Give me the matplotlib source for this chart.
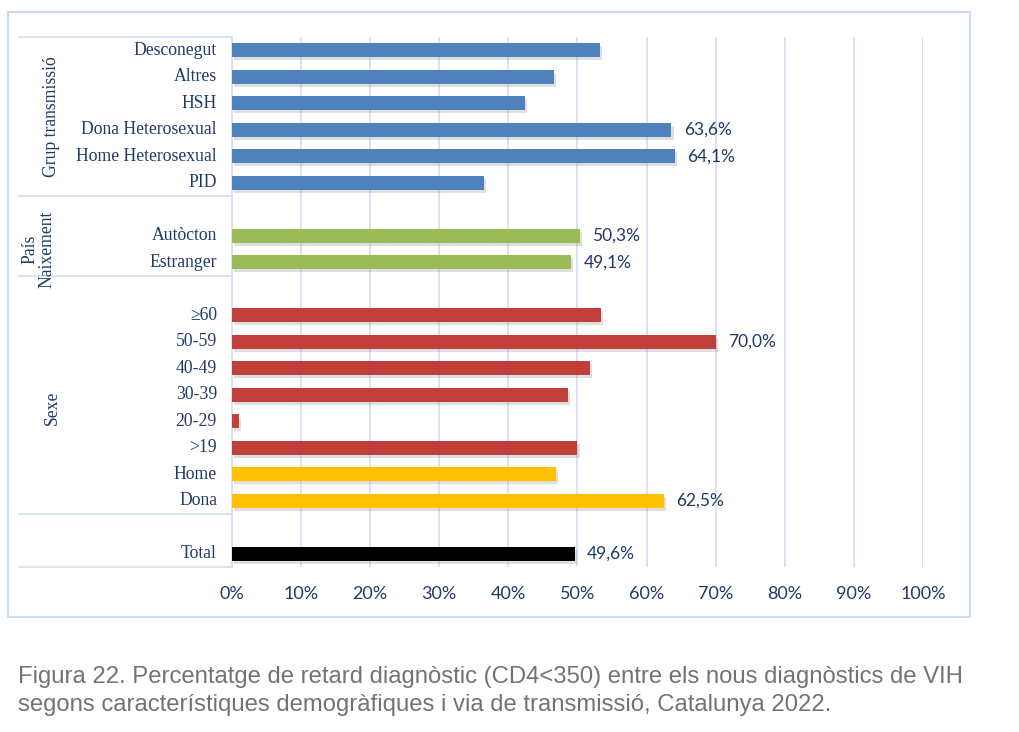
import matplotlib
matplotlib.use("Agg")
import matplotlib.pyplot as plt
import matplotlib.patheffects as pe
from matplotlib.patches import Rectangle
from matplotlib.lines import Line2D
from matplotlib.transforms import blended_transform_factory

# categories from top to bottom, None = empty slot between groups
categories = ["Desconegut", "Altres", "HSH", "Dona Heterosexual", "Home Heterosexual", "PID",
              None,
              "Autòcton", "Estranger",
              None,
              "≥60", "50-59", "40-49", "30-39", "20-29", ">19", "Home", "Dona",
              None,
              "Total"]
values = [53.3, 46.6, 42.4, 63.6, 64.1, 36.5,
          None,
          50.3, 49.1,
          None,
          53.4, 70.0, 51.8, 48.6, 1.0, 50.0, 46.9, 62.5,
          None,
          49.6]
kinds = ["grup"] * 6 + [None] + ["pais"] * 2 + [None] + ["edat"] * 6 + ["sexe"] * 2 + [None] + ["total"]
labelled = ["Dona Heterosexual", "Home Heterosexual", "Autòcton", "Estranger", "50-59", "Dona", "Total"]

groups = [("Grup transmissió", 0, 5), ("País\nNaixement", 7, 8), ("Sexe", 10, 17)]
separators = [-0.5, 5.5, 8.5, 17.5, 19.5]

colors = {"grup": "#4F81BD", "pais": "#9BBB59", "edat": "#C03F3B", "sexe": "#FFC000", "total": "#000000"}
navy = "#1F3A68"
gridc = "#D5E1F1"

caption = ("Figura 22. Percentatge de retard diagnòstic (CD4<350) entre els nous diagnòstics de VIH\n"
           "segons característiques demogràfiques i via de transmissió, Catalunya 2022.")

W, H = 1020, 732
fig = plt.figure(figsize=(W / 100, H / 100), dpi=100)
ax = fig.add_axes([232 / W, (H - 567) / H, 691 / W, 530 / H])

shadow = [pe.SimplePatchShadow(offset=(1.5, -2), shadow_rgbFace="gray", alpha=0.25), pe.Normal()]
for i, (cat, v, k) in enumerate(zip(categories, values, kinds)):
    if v is None:
        continue
    b = ax.barh(i, v, height=0.53, color=colors[k], zorder=3)
    for p in b:
        p.set_path_effects(shadow)
    if cat in labelled:
        ax.text(v + 1.8, i, f"{v:.1f}%".replace(".", ","), va="center", ha="left",
                fontsize=12.5, color=navy, family="Lato", zorder=4)

ax.set_xlim(0, 100)
ax.set_ylim(19.5, -0.5)
ax.set_xticks(range(0, 101, 10))
ax.set_xticklabels([f"{t}%" for t in range(0, 101, 10)], fontsize=13, color=navy, family="Lato")
ax.tick_params(axis="x", length=0, pad=14)
ax.set_yticks([])
ax.grid(axis="x", color=gridc, linewidth=1.3, zorder=0)
for s in ["top", "right", "bottom"]:
    ax.spines[s].set_visible(False)
ax.spines["left"].set_color(gridc)
ax.spines["left"].set_linewidth(1.3)

# category labels and table lines on the left
tr = blended_transform_factory(fig.transFigure, ax.transData)
for i, cat in enumerate(categories):
    if cat is None:
        continue
    ax.text(217 / W, i, cat, transform=tr, ha="right", va="center", fontsize=12.7,
            color=navy, family="Liberation Serif")
for y in separators:
    ax.add_artist(Line2D([19 / W, 232 / W], [y, y], transform=tr, color=gridc,
                         linewidth=1.3, clip_on=False))
for name, a, b in groups:
    x = 38 / W if "\n" in name else 52 / W
    ax.text(x, (a + b) / 2, name, transform=tr, rotation=90, ha="center", va="center",
            fontsize=12.7, color=navy, family="Liberation Serif", linespacing=1.0)

# outer frame
fig.add_artist(Rectangle((8 / W, (H - 617) / H), 962 / W, 605 / H, transform=fig.transFigure,
                         fill=False, edgecolor="#CCDCF0", linewidth=1.5))

fig.text(18 / W, (H - 691) / H, caption, ha="left", va="center", fontsize=17.2,
         color="#737373", family="Liberation Sans", linespacing=1.32)

fig.savefig("out.png", dpi=100)
